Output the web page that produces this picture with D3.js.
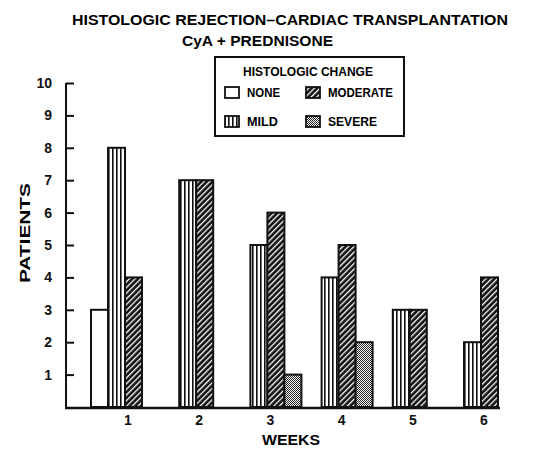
<!DOCTYPE html>
<html><head><meta charset="utf-8">
<script src="https://cdn.jsdelivr.net/npm/d3@7"></script>
<style>body{margin:0;background:#fff}svg{display:block}</style>
</head><body>
<script>
const weeks = [1, 2, 3, 4, 5, 6];
const categories = ["NONE", "MILD", "MODERATE", "SEVERE"];
const noneVals = [3, 0, 0, 0, 0, 0];
const mildVals = [8, 7, 5, 4, 3, 2];
const moderateVals = [4, 7, 6, 5, 3, 4];
const severeVals = [0, 0, 1, 2, 0, 0];
const yTicks = [1, 2, 3, 4, 5, 6, 7, 8, 9, 10];
const titleLines = ["HISTOLOGIC REJECTION\u2013CARDIAC TRANSPLANTATION", "CyA + PREDNISONE"];

const W = 539, H = 450;
const svg = d3.select("body").append("svg").attr("width", W).attr("height", H);
const defs = svg.append("defs");
const FONT = "'Liberation Sans', Arial, sans-serif";

// patterns
const pMild = defs.append("pattern").attr("id", "pMild").attr("patternUnits", "userSpaceOnUse").attr("width", 4).attr("height", 4);
pMild.append("rect").attr("width", 4).attr("height", 4).attr("fill", "#fff");
pMild.append("rect").attr("x", 0).attr("width", 1.6).attr("height", 4).attr("fill", "#111");
const pMod = defs.append("pattern").attr("id", "pMod").attr("patternUnits", "userSpaceOnUse").attr("width", 4).attr("height", 4).attr("patternTransform", "rotate(45)");
pMod.append("rect").attr("width", 4).attr("height", 4).attr("fill", "#111");
pMod.append("rect").attr("x", 0).attr("width", 1.3).attr("height", 4).attr("fill", "#fff");
const pSev = defs.append("pattern").attr("id", "pSev").attr("patternUnits", "userSpaceOnUse").attr("width", 2).attr("height", 2);
pSev.append("rect").attr("width", 2).attr("height", 2).attr("fill", "#fff");
pSev.append("rect").attr("width", 1).attr("height", 1).attr("fill", "#222");
pSev.append("rect").attr("x", 1).attr("y", 1).attr("width", 1).attr("height", 1).attr("fill", "#222");
const fills = {NONE: "#fff", MILD: "url(#pMild)", MODERATE: "url(#pMod)", SEVERE: "url(#pSev)"};
const offsets = {NONE: -2, MILD: -1, MODERATE: 0, SEVERE: 1};
const seriesVals = {NONE: noneVals, MILD: mildVals, MODERATE: moderateVals, SEVERE: severeVals};

const y = d3.scaleLinear().domain([0, 10]).range([407, 83]);
const x = d3.scaleLinear().domain([1, 6]).range([125, 481]);
const bw = 17;

// title
svg.append("text").attr("x", 72).attr("y", 25).attr("textLength", 436).attr("lengthAdjust", "spacingAndGlyphs")
  .attr("font-family", FONT).attr("font-weight", "bold").attr("font-size", 14).text(titleLines[0]);
svg.append("text").attr("x", 182).attr("y", 46).attr("textLength", 151).attr("lengthAdjust", "spacingAndGlyphs")
  .attr("font-family", FONT).attr("font-weight", "bold").attr("font-size", 14).text(titleLines[1]);

// bars
const bars = [];
categories.forEach(c => weeks.forEach((w, i) => { if (seriesVals[c][i] > 0) bars.push({c, w, v: seriesVals[c][i]}); }));
svg.append("g").selectAll("rect").data(bars).join("rect")
  .attr("x", d => x(d.w) + offsets[d.c] * bw)
  .attr("y", d => y(d.v))
  .attr("width", bw)
  .attr("height", d => y(0) - y(d.v))
  .attr("fill", d => fills[d.c])
  .attr("stroke", "#111").attr("stroke-width", 2);

// y axis
const yAxis = d3.axisRight(y).tickValues([...yTicks]).tickSize(8).tickFormat("");
const gy = svg.append("g").attr("transform", "translate(66,0)").call(yAxis);
gy.select(".domain").attr("stroke", "#111").attr("stroke-width", 2).attr("d", `M0,${y(10)}V${y(0)}`);
gy.selectAll(".tick line").attr("stroke", "#111").attr("stroke-width", 2);
svg.append("g").selectAll("text").data(yTicks).join("text")
  .attr("x", 52).attr("y", d => y(d) + 5).attr("text-anchor", "end")
  .attr("font-family", FONT).attr("font-weight", "bold").attr("font-size", 14).attr("fill", "#111")
  .text(d => d);

// baseline
svg.append("line").attr("x1", 65).attr("x2", 500).attr("y1", y(0) + 1).attr("y2", y(0) + 1).attr("stroke", "#111").attr("stroke-width", 2.5);

// x labels
svg.append("g").selectAll("text").data(weeks).join("text")
  .attr("x", d => x(d) + 3).attr("y", 425).attr("text-anchor", "middle")
  .attr("font-family", FONT).attr("font-weight", "bold").attr("font-size", 14).attr("fill", "#111")
  .text(d => d);
svg.append("text").attr("x", 291).attr("y", 445).attr("text-anchor", "middle").attr("textLength", 58).attr("lengthAdjust", "spacingAndGlyphs")
  .attr("font-family", FONT).attr("font-weight", "bold").attr("font-size", 14).text("WEEKS");
svg.append("text").attr("transform", "translate(30,233) rotate(-90)").attr("text-anchor", "middle")
  .attr("textLength", 100).attr("lengthAdjust", "spacingAndGlyphs")
  .attr("font-family", FONT).attr("font-weight", "bold").attr("font-size", 14).text("PATIENTS");

// legend
const lg = svg.append("g");
lg.append("rect").attr("x", 215).attr("y", 57).attr("width", 189).attr("height", 79).attr("fill", "#fff").attr("stroke", "#111").attr("stroke-width", 2);
lg.append("text").attr("x", 308).attr("y", 76).attr("text-anchor", "middle").attr("textLength", 130).attr("lengthAdjust", "spacingAndGlyphs")
  .attr("font-family", FONT).attr("font-weight", "bold").attr("font-size", 12).text("HISTOLOGIC CHANGE");
const legPos = {NONE: [225, 87], MODERATE: [306, 87], MILD: [225, 116], SEVERE: [306, 116]};
const legLen = {NONE: 33, MODERATE: 65, MILD: 31, SEVERE: 49};
categories.forEach(c => {
  const [lx, ly] = legPos[c];
  lg.append("rect").attr("x", lx).attr("y", ly).attr("width", 14).attr("height", 11).attr("fill", fills[c]).attr("stroke", "#111").attr("stroke-width", 1.8);
  lg.append("text").attr("x", lx + 22).attr("y", ly + 10).attr("textLength", legLen[c]).attr("lengthAdjust", "spacingAndGlyphs")
    .attr("font-family", FONT).attr("font-weight", "bold").attr("font-size", 12).text(c);
});
</script>
</body></html>
